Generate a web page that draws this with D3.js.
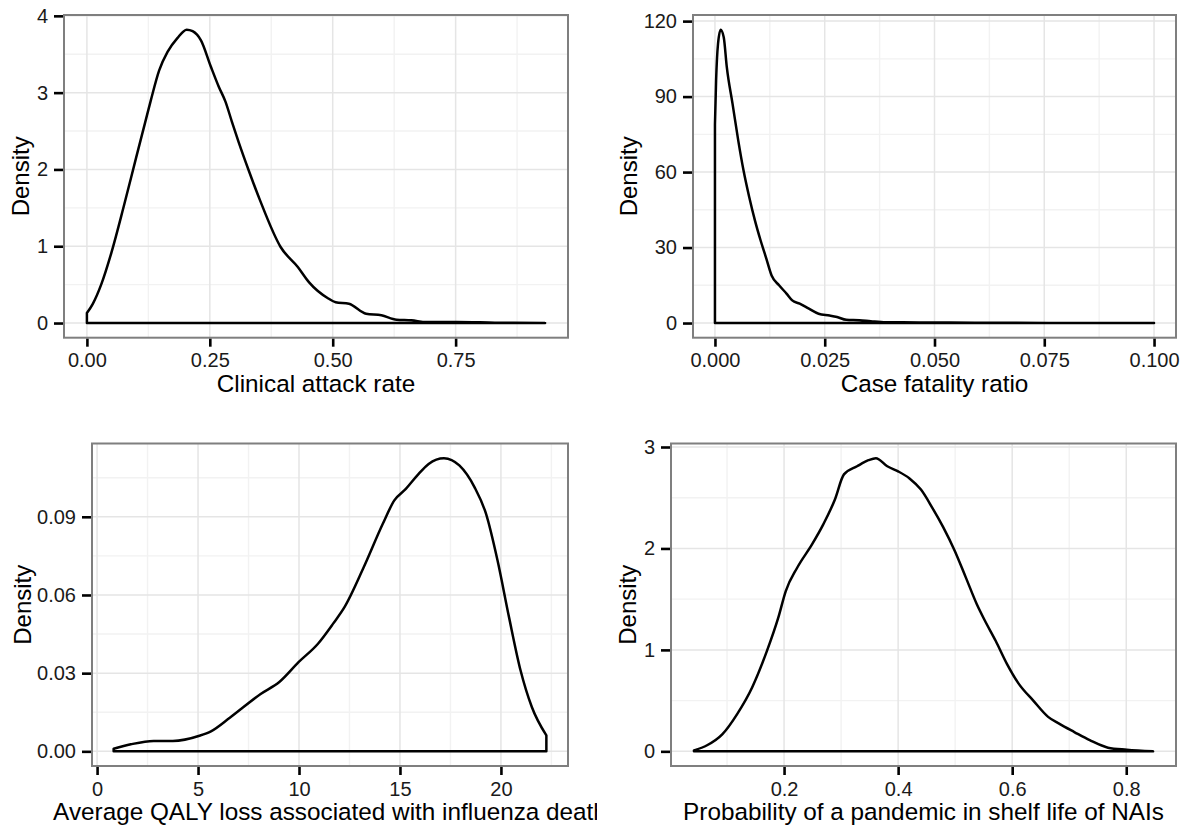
<!DOCTYPE html>
<html><head><meta charset="utf-8">
<script src="https://cdn.jsdelivr.net/npm/d3@7"></script>
<style>
html,body{margin:0;padding:0;background:#fff;}
svg{display:block;}
text{font-family:"Liberation Sans",Arial,sans-serif;}
</style></head><body>
<svg id="chart" width="1190" height="828"></svg>
<script>
// ---- Panel 1: Clinical attack rate ----
const attackX = [0, 0.012, 0.029, 0.050, 0.075, 0.100, 0.118, 0.130, 0.147, 0.164, 0.184, 0.203, 0.215, 0.232, 0.252, 0.268, 0.282, 0.295, 0.309, 0.329, 0.352, 0.394, 0.429, 0.452, 0.491, 0.506, 0.533, 0.568, 0.599, 0.630, 0.660, 0.691, 0.753, 0.830, 0.932];
const attackY = [0.13, 0.25, 0.50, 0.92, 1.52, 2.15, 2.60, 2.90, 3.29, 3.53, 3.71, 3.82, 3.80, 3.68, 3.34, 3.08, 2.88, 2.62, 2.35, 1.99, 1.60, 0.99, 0.73, 0.53, 0.32, 0.27, 0.25, 0.12, 0.10, 0.043, 0.035, 0.013, 0.013, 0.005, 0.0];
const attackXTicks = [0, 0.25, 0.5, 0.75];
const attackXLabels = ["0.00", "0.25", "0.50", "0.75"];
const attackYTicks = [0, 1, 2, 3, 4];
const attackYLabels = ["0", "1", "2", "3", "4"];

// ---- Panel 2: Case fatality ratio ----
const cfrX = [0, 0.00026, 0.0007, 0.0013, 0.002, 0.0027, 0.004, 0.0053, 0.0065, 0.0078, 0.0091, 0.0104, 0.0117, 0.0129, 0.0146, 0.0163, 0.0176, 0.0193, 0.0214, 0.0236, 0.0261, 0.0278, 0.0299, 0.0329, 0.0355, 0.0389, 0.0465, 0.0592, 0.076, 0.1];
const cfrY = [79, 96.4, 111, 116.6, 113.6, 101.7, 87.2, 72.6, 60.7, 50.1, 40.8, 32.8, 25.6, 18.9, 15, 11.7, 9.0, 7.7, 5.7, 3.7, 3.0, 2.4, 1.3, 1.1, 0.7, 0.3, 0.26, 0.13, 0.05, 0.02];
const cfrXTicks = [0, 0.025, 0.05, 0.075, 0.1];
const cfrXLabels = ["0.000", "0.025", "0.050", "0.075", "0.100"];
const cfrYTicks = [0, 30, 60, 90, 120];
const cfrYLabels = ["0", "30", "60", "90", "120"];

// ---- Panel 3: Average QALY loss ----
const qalyX = [0.82, 1.67, 2.80, 3.75, 5.07, 5.64, 6.59, 8.10, 9.04, 9.99, 10.94, 11.69, 12.26, 13.21, 14.15, 14.72, 15.29, 15.86, 16.42, 17.18, 17.94, 18.69, 19.26, 19.83, 20.40, 20.97, 21.53, 22.25];
const qalyY = [0.001, 0.0027, 0.004, 0.004, 0.006, 0.0077, 0.013, 0.022, 0.0267, 0.0343, 0.0413, 0.049, 0.0554, 0.0707, 0.0873, 0.0963, 0.1007, 0.1059, 0.1103, 0.1125, 0.1097, 0.1014, 0.0912, 0.0733, 0.0515, 0.0311, 0.017, 0.0061];
const qalyXTicks = [0, 5, 10, 15, 20];
const qalyXLabels = ["0", "5", "10", "15", "20"];
const qalyYTicks = [0, 0.03, 0.06, 0.09];
const qalyYLabels = ["0.00", "0.03", "0.06", "0.09"];

// ---- Panel 4: Probability of a pandemic ----
const probX = [0.042, 0.065, 0.092, 0.118, 0.144, 0.170, 0.190, 0.203, 0.223, 0.249, 0.269, 0.289, 0.305, 0.328, 0.348, 0.361, 0.381, 0.400, 0.420, 0.440, 0.460, 0.479, 0.499, 0.519, 0.538, 0.552, 0.571, 0.591, 0.611, 0.637, 0.663, 0.683, 0.709, 0.736, 0.768, 0.801, 0.847];
const probY = [0.01, 0.06, 0.17, 0.37, 0.63, 0.99, 1.32, 1.58, 1.81, 2.04, 2.24, 2.48, 2.73, 2.81, 2.87, 2.89, 2.81, 2.76, 2.69, 2.58, 2.40, 2.21, 1.98, 1.71, 1.45, 1.29, 1.09, 0.86, 0.67, 0.50, 0.34, 0.27, 0.19, 0.11, 0.036, 0.016, 0.0];
const probXTicks = [0.2, 0.4, 0.6, 0.8];
const probXLabels = ["0.2", "0.4", "0.6", "0.8"];
const probYTicks = [0, 1, 2, 3];
const probYLabels = ["0", "1", "2", "3"];

const xTitles = ["Clinical attack rate", "Case fatality ratio", "Average QALY loss associated with influenza death", "Probability of a pandemic in shelf life of NAIs"];
const yTitle = "Density";

const svg = d3.select("#chart");
const defs = svg.append("defs");
defs.append("clipPath").attr("id", "clipLeftCell")
  .append("rect").attr("x", 0).attr("y", 0).attr("width", 597).attr("height", 828);

const panels = [
  {xs: attackX, ys: attackY, xt: attackXTicks, xl: attackXLabels, yt: attackYTicks, yl: attackYLabels, title: xTitles[0],
   box: {l: 64, r: 568, t: 15, b: 337.7}, ytx: 29},
  {xs: cfrX, ys: cfrY, xt: cfrXTicks, xl: cfrXLabels, yt: cfrYTicks, yl: cfrYLabels, title: xTitles[1],
   box: {l: 693, r: 1176, t: 15, b: 337.7}, ytx: 637},
  {xs: qalyX, ys: qalyY, xt: qalyXTicks, xl: qalyXLabels, yt: qalyYTicks, yl: qalyYLabels, title: xTitles[2],
   box: {l: 92, r: 568, t: 443.5, b: 766}, ytx: 31, clip: true},
  {xs: probX, ys: probY, xt: probXTicks, xl: probXLabels, yt: probYTicks, yl: probYLabels, title: xTitles[3],
   box: {l: 671, r: 1176, t: 443.5, b: 766}, ytx: 636}
];

function minorBreaks(major, lo, hi) {
  const step = major[1] - major[0];
  const out = [];
  const start = major[0] - step / 2;
  for (let v = start; v <= hi + 1e-12; v += step) {
    if (v >= lo - 1e-12) out.push(v);
  }
  return out;
}

panels.forEach(p => {
  const bx = p.box;
  const xmin = d3.min(p.xs), xmax = d3.max(p.xs);
  const ymax = d3.max(p.ys), ymin = 0;
  const xr = xmax - xmin, yr = ymax - ymin;
  const x = d3.scaleLinear().domain([xmin - 0.05 * xr, xmax + 0.05 * xr]).range([bx.l, bx.r]);
  const y = d3.scaleLinear().domain([ymin - 0.05 * yr, ymax + 0.05 * yr]).range([bx.b, bx.t]);
  const g = svg.append("g");

  g.append("rect").attr("x", bx.l).attr("y", bx.t).attr("width", bx.r - bx.l).attr("height", bx.b - bx.t).attr("fill", "#fff");

  const xd = x.domain(), yd = y.domain();
  const xMin = minorBreaks(p.xt, xd[0], xd[1]);
  const yMin = minorBreaks(p.yt, yd[0], yd[1]);
  g.selectAll(".vminor").data(xMin).enter().append("line")
    .attr("x1", d => x(d)).attr("x2", d => x(d)).attr("y1", bx.t).attr("y2", bx.b)
    .attr("stroke", "#f2f2f2").attr("stroke-width", 1.4);
  g.selectAll(".hminor").data(yMin).enter().append("line")
    .attr("y1", d => y(d)).attr("y2", d => y(d)).attr("x1", bx.l).attr("x2", bx.r)
    .attr("stroke", "#f2f2f2").attr("stroke-width", 1.4);
  g.selectAll(".vmajor").data(p.xt).enter().append("line")
    .attr("x1", d => x(d)).attr("x2", d => x(d)).attr("y1", bx.t).attr("y2", bx.b)
    .attr("stroke", "#e5e5e5").attr("stroke-width", 1.5);
  g.selectAll(".hmajor").data(p.yt).enter().append("line")
    .attr("y1", d => y(d)).attr("y2", d => y(d)).attr("x1", bx.l).attr("x2", bx.r)
    .attr("stroke", "#e5e5e5").attr("stroke-width", 1.5);

  // density polygon
  const pts = p.xs.map((v, i) => [v, p.ys[i]]);
  const lineGen = d3.line().x(d => x(d[0])).y(d => y(d[1])).curve(d3.curveMonotoneX);
  const top = lineGen(pts);
  const d = `M${x(p.xs[0])},${y(0)}L` + top.slice(1) + `L${x(p.xs[p.xs.length - 1])},${y(0)}Z`;
  g.append("path").attr("d", d).attr("fill", "none").attr("stroke", "#000")
    .attr("stroke-width", 2.5).attr("stroke-linejoin", "round");

  // border
  g.append("rect").attr("x", bx.l).attr("y", bx.t).attr("width", bx.r - bx.l).attr("height", bx.b - bx.t)
    .attr("fill", "none").attr("stroke", "#7f7f7f").attr("stroke-width", 2);

  // axes
  const ya = g.append("g").attr("transform", `translate(${bx.l - 1},0)`)
    .call(d3.axisLeft(y).tickValues(p.yt).tickFormat((v, i) => p.yl[i]).tickSize(9).tickPadding(6));
  const xa = g.append("g").attr("transform", `translate(0,${bx.b + 1})`)
    .call(d3.axisBottom(x).tickValues(p.xt).tickFormat((v, i) => p.xl[i]).tickSize(8).tickPadding(6.5));
  [ya, xa].forEach(a => {
    a.select(".domain").remove();
    a.selectAll(".tick line").attr("stroke", "#000").attr("stroke-width", 2.6);
    a.selectAll(".tick text").attr("fill", "#1a1a1a").style("font-size", "20px")
      .style("font-family", '"Liberation Sans", Arial, sans-serif');
  });

  // axis titles
  const xt = g.append("text").attr("x", (bx.l + bx.r) / 2).attr("y", bx.b + 54)
    .attr("text-anchor", "middle").attr("fill", "#000").style("font-size", "24.3px").text(p.title);
  if (p.clip) xt.attr("clip-path", "url(#clipLeftCell)");
  g.append("text").attr("transform", `translate(${p.ytx},${(bx.t + bx.b) / 2}) rotate(-90)`)
    .attr("text-anchor", "middle").attr("fill", "#000").style("font-size", "24px").text(yTitle);
});
</script>
</body></html>
